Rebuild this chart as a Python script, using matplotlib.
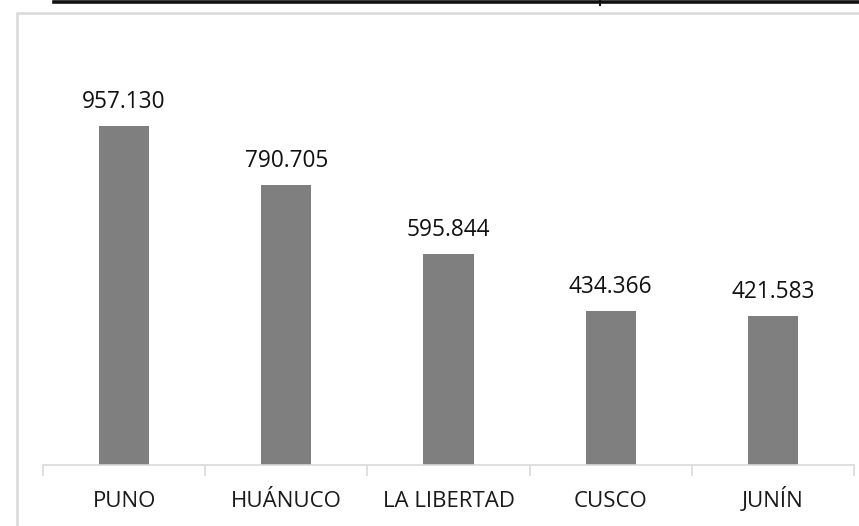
import matplotlib
matplotlib.use('Agg')
import matplotlib.pyplot as plt
from matplotlib.patches import Rectangle
from matplotlib.lines import Line2D

regiones = ["PUNO", "HUÁNUCO", "LA LIBERTAD", "CUSCO", "JUNÍN"]
valores = [957.130, 790.705, 595.844, 434.366, 421.583]
etiquetas = ["957.130", "790.705", "595.844", "434.366", "421.583"]

W, H = 859, 526
fig = plt.figure(figsize=(W / 100, H / 100), dpi=100)
plt.rcParams['font.family'] = ['Open Sans', 'DejaVu Sans']

# axes in pixel coords: x 43..854, baseline y=465
x0, x1 = 43, 854
yb, yt = 465, 40
ax = fig.add_axes([x0 / W, 1 - yb / H, (x1 - x0) / W, (yb - yt) / H])
ymax = (yb - yt) / (339 / 957.13)

xs = range(len(regiones))
ax.bar(xs, valores, width=0.31, color='#7f7f7f', zorder=2)
for x, v, t in zip(xs, valores, etiquetas):
    ax.annotate(t, (x, v), xytext=(0, 13), textcoords='offset points',
                ha='center', va='baseline', fontsize=16.3, color='#111111')

ax.set_xlim(-0.5, len(regiones) - 0.5)
ax.set_ylim(0, ymax)
ax.set_yticks([])
ax.set_xticks([i - 0.5 for i in range(len(regiones) + 1)], minor=False)
ax.set_xticklabels([])
ax.set_xticks(list(xs), minor=True)
ax.set_xticklabels(regiones, minor=True, fontsize=16, color='#1a1a1a', va='baseline')
ax.tick_params(axis='x', which='major', length=8, color='#d9d9d9', width=1.2)
ax.tick_params(axis='x', which='minor', length=0, pad=30)
for s in ['top', 'right', 'left']:
    ax.spines[s].set_visible(False)
ax.spines['bottom'].set_color('#d9d9d9')
ax.spines['bottom'].set_linewidth(1.2)

# chart border (cropped)
fig.patches.append(Rectangle((17 / W, -0.1), 1.0, 1 - 13 / H + 0.1, transform=fig.transFigure,
                             fill=False, edgecolor='#d9d9d9', linewidth=1.8))
# top black underline
fig.lines.append(Line2D([54 / W, 1.0], [1 - 1.5 / H, 1 - 1.5 / H], transform=fig.transFigure,
                        color='#111111', linewidth=2.6))
fig.lines.append(Line2D([600 / W, 600 / W], [1 - 0.5 / H, 1 - 4.5 / H], transform=fig.transFigure,
                        color='#111111', linewidth=1.5))

fig.savefig('out.png', dpi=100)
